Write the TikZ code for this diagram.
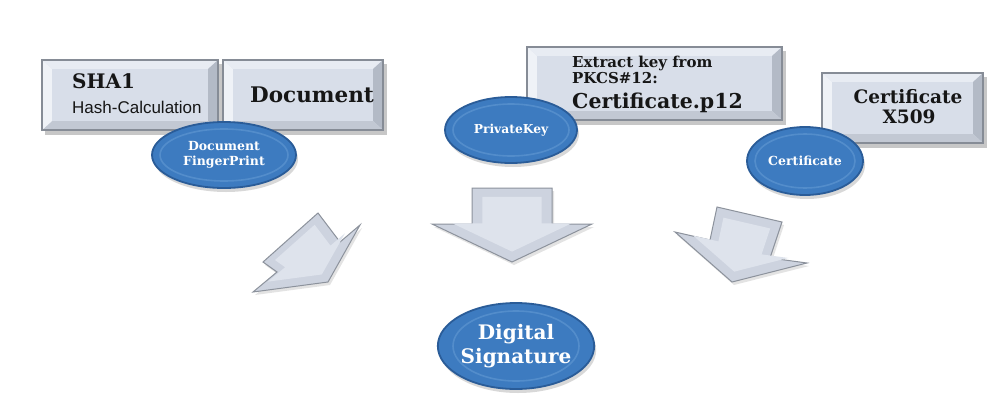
\documentclass[tikz,border=0pt]{standalone}
\usepackage{fontspec}
\setmainfont{DejaVu Serif}
\newfontfamily\hashsans{Liberation Sans}
\usetikzlibrary{shapes.geometric,shadows,calc}
\definecolor{boxface}{HTML}{D8DEE9}
\definecolor{bevtop}{HTML}{E8ECF3}
\definecolor{bevleft}{HTML}{EFF2F7}
\definecolor{bevright}{HTML}{B3BAC6}
\definecolor{bevbot}{HTML}{C2C8D3}
\definecolor{boxline}{HTML}{868C96}
\definecolor{blobfill}{HTML}{3D7BC0}
\definecolor{blobring}{HTML}{6A9FD6}
\definecolor{blobline}{HTML}{2A5C98}
\definecolor{arrfill}{HTML}{CDD3DF}
\definecolor{arrin}{HTML}{DEE3EC}
\definecolor{arrline}{HTML}{8C929C}
\definecolor{ink}{HTML}{161616}
\newcommand\fsz[1]{\fontsize{#1}{\fpeval{#1*1.2}}\selectfont}
\newcommand\bevelbox[5]{%
  \fill[black,opacity=0.22] (#2+3,#3+4) rectangle (#4+4,#5+5);
  \node[boxnode, minimum width={(#4-#2)*1pt}, minimum height={(#5-#3)*1pt}] (#1) at ({(#2+#4)/2},{(#3+#5)/2}) {};
  \coordinate (#1-inw) at ($(#1.north west)+(10,9)$);
  \coordinate (#1-ine) at ($(#1.north east)+(-10,9)$);
  \coordinate (#1-ise) at ($(#1.south east)+(-10,-9)$);
  \coordinate (#1-isw) at ($(#1.south west)+(10,-9)$);
  \fill[bevtop] (#1.north west) -- (#1.north east) -- (#1-ine) -- (#1-inw) -- cycle;
  \fill[bevright] (#1.north east) -- (#1.south east) -- (#1-ise) -- (#1-ine) -- cycle;
  \fill[bevbot] (#1.south east) -- (#1.south west) -- (#1-isw) -- (#1-ise) -- cycle;
  \fill[bevleft] (#1.south west) -- (#1.north west) -- (#1-inw) -- (#1-isw) -- cycle;
  \fill[boxface] (#1-inw) rectangle (#1-ise);
  \draw[boxline, line width=1.2pt] (#1.north west) rectangle (#1.south east);
}
\begin{document}
\begin{tikzpicture}[x=1pt,y=-1pt,
  boxnode/.style={draw=none, fill=boxface, inner sep=0pt, outer sep=0pt},
  txt/.style={text=ink, font=\bfseries, inner sep=0pt},
  blob/.style={ellipse, fill=blobfill, draw=blobline, line width=1.8pt, inner sep=0pt,
    text=white, font=\bfseries, align=center,
    drop shadow={opacity=0.3, shadow xshift=2pt, shadow yshift=-4pt}},
  ring/.style={draw=blobring, line width=1.6pt, opacity=0.5},
  blockarrow/.style={fill=arrfill, draw=arrline, line width=1pt, line join=miter,
    drop shadow={opacity=0.22, shadow xshift=2pt, shadow yshift=-3pt}},
  arrowface/.style={fill=arrin}
]
\useasboundingbox (0,0) rectangle (1000,415);
\fill[white] (0,0) rectangle (1000,415);

% boxes
\bevelbox{sha}{42}{60}{218}{130}
\bevelbox{doc}{223}{60}{383}{130}
\bevelbox{pkcs}{527}{47}{782}{120}
\bevelbox{xcert}{822}{73}{983}{143}

% box texts
\node[txt, anchor=base west] (shat) at (72,88) {\fsz{20}SHA1};
\node[txt, anchor=base west, font=\hashsans] (hasht) at (72,113) {\fsz{17}Hash-Calculation};
\node[txt, anchor=base west] (doct) at (250,102) {\fsz{21.5}Document};
\node[txt, anchor=base west] (ext1) at (572,67) {\fsz{15}Extract key from};
\node[txt, anchor=base west] (ext2) at (572,83) {\fsz{15}PKCS\#12:};
\node[txt, anchor=base west] (ext3) at (572,108) {\fsz{20.5}Certificate.p12};
\node[txt, anchor=base] (xc1) at (908,103) {\fsz{18.5}Certificate};
\node[txt, anchor=base] (xc2) at (909,123) {\fsz{18.5}X509};

% ellipses
\node[blob, minimum width=144pt, minimum height=66pt] (fp) at (224,155) {\fsz{12.5}Document\\[3pt]\fsz{12.5}FingerPrint};
\draw[ring] (fp.center) ellipse [x radius=64, y radius=26];
\node[blob, minimum width=132pt, minimum height=66pt] (pk) at (511,130) {\fsz{12.3}PrivateKey};
\draw[ring] (pk.center) ellipse [x radius=58, y radius=26];
\node[blob, minimum width=116pt, minimum height=68pt] (ce) at (805,161) {\fsz{12.5}Certificate};
\draw[ring] (ce.center) ellipse [x radius=50, y radius=27];

% block arrows
\draw[blockarrow] (263,262) -- (318,213) -- (340,242) -- (360,225) -- (328,282) -- (253,292) -- (277,272) -- cycle;
\fill[arrowface, scale around={0.72:(306,255)}] (263,262) -- (318,213) -- (340,242) -- (360,225) -- (328,282) -- (253,292) -- (277,272) -- cycle;

\draw[blockarrow] (472,188) -- (552,188) -- (552,224) -- (592,224) -- (512,262) -- (432,224) -- (472,224) -- cycle;
\fill[arrowface, scale around={0.74:(512,222)}] (472,188) -- (552,188) -- (552,224) -- (592,224) -- (512,262) -- (432,224) -- (472,224) -- cycle;

\draw[blockarrow] (717,207) -- (782,222) -- (770,258) -- (807,263) -- (732,282) -- (675,232) -- (710,240) -- cycle;
\fill[arrowface, scale around={0.72:(740,245)}] (717,207) -- (782,222) -- (770,258) -- (807,263) -- (732,282) -- (675,232) -- (710,240) -- cycle;

% result
\node[blob, minimum width=142pt, minimum height=86pt] (ds) at (516,346) {\fsz{20}Digital\\[3pt]\fsz{20}Signature};
\draw[ring] (ds.center) ellipse [x radius=63, y radius=35];
\end{tikzpicture}
\end{document}
